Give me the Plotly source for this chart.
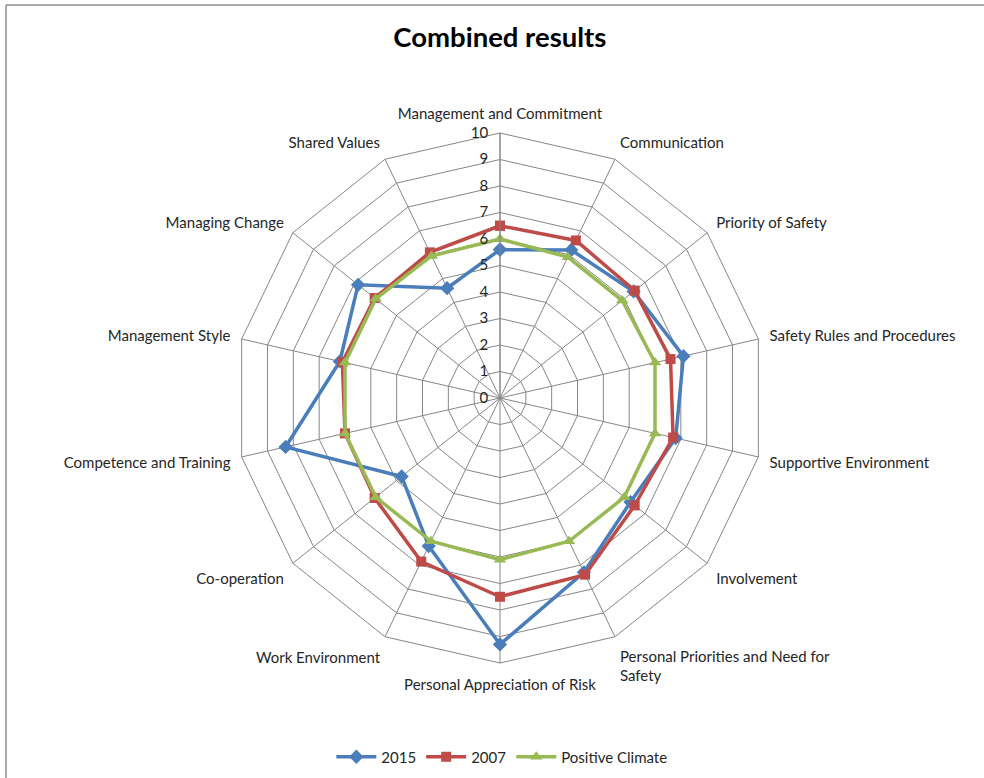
import plotly.graph_objects as go

categories = [
    "Management and Commitment",
    "Communication",
    "Priority of Safety",
    "Safety Rules and Procedures",
    "Supportive Environment",
    "Involvement",
    "Personal Priorities and Need for<br>Safety",
    "Personal Appreciation of Risk",
    "Work Environment",
    "Co-operation",
    "Competence and Training",
    "Management Style",
    "Managing Change",
    "Shared Values",
]

values_2015 = [5.6, 6.2, 6.45, 7.1, 6.8, 6.3, 7.3, 9.3, 6.2, 4.75, 8.3, 6.2, 6.85, 4.6]
values_2007 = [6.5, 6.6, 6.5, 6.6, 6.7, 6.5, 7.4, 7.5, 6.85, 6.05, 6.0, 6.1, 6.05, 6.1]
values_positive = [6.0, 5.9, 5.9, 6.0, 6.0, 6.0, 6.0, 6.1, 6.0, 6.0, 6.0, 6.0, 6.0, 5.95]

radial_ticks = list(range(0, 11))

series = [
    ("2015", values_2015, "#4a7ebb", "diamond", 11),
    ("2007", values_2007, "#be4b48", "square", 10),
    ("Positive Climate", values_positive, "#98b954", "triangle-up", 11),
]

font_family = "Lato, 'Open Sans', sans-serif"
grid_color = "#868686"

fig = go.Figure()
for name, vals, color, symbol, size in series:
    fig.add_trace(go.Scatterpolar(
        r=vals + vals[:1],
        theta=categories + categories[:1],
        mode="lines+markers",
        name=name,
        line=dict(color=color, width=3.5),
        marker=dict(color=color, symbol=symbol, size=size),
    ))

fig.update_layout(
    width=984,
    height=778,
    margin=dict(l=0, r=0, t=0, b=0),
    paper_bgcolor="white",
    plot_bgcolor="white",
    font=dict(family=font_family, size=15, color="#262626"),
    title=dict(
        text="<b>Combined results</b>",
        x=0.508, xanchor="center",
        y=1 - 37 / 778, yanchor="middle",
        font=dict(size=27.5, color="#000000", family=font_family),
    ),
    polar=dict(
        domain=dict(x=[235 / 984, 765 / 984], y=[115 / 778, 645 / 778]),
        bgcolor="white",
        gridshape="linear",
        angularaxis=dict(
            direction="clockwise",
            rotation=90,
            showgrid=True,
            gridcolor=grid_color,
            gridwidth=1,
            linecolor=grid_color,
            linewidth=1,
            showline=True,
            ticks="outside",
            ticklen=8,
            tickcolor="rgba(0,0,0,0)",
            tickfont=dict(size=15, color="#262626"),
        ),
        radialaxis=dict(
            range=[0, 10],
            tickvals=radial_ticks,
            ticktext=[str(v) for v in radial_ticks],
            angle=90,
            side="counterclockwise",
            tickangle=90,
            showgrid=True,
            gridcolor=grid_color,
            gridwidth=1,
            showline=True,
            linecolor=grid_color,
            linewidth=1,
            ticks="outside",
            ticklen=6,
            tickcolor="rgba(0,0,0,0)",
            tickfont=dict(size=15, color="#262626"),
        ),
    ),
    legend=dict(
        orientation="h",
        x=0.51, xanchor="center",
        y=1 - 757 / 778, yanchor="middle",
        font=dict(size=15, color="#262626"),
        itemwidth=40,
    ),
    shapes=[
        dict(type="line", xref="paper", yref="paper",
             x0=6 / 984, x1=1, y0=1 - 5 / 778, y1=1 - 5 / 778,
             line=dict(color="#8c8c8c", width=1.5)),
        dict(type="line", xref="paper", yref="paper",
             x0=6 / 984, x1=6 / 984, y0=0, y1=1 - 5 / 778,
             line=dict(color="#8c8c8c", width=1.5)),
    ],
)

fig.write_html("out.html")
